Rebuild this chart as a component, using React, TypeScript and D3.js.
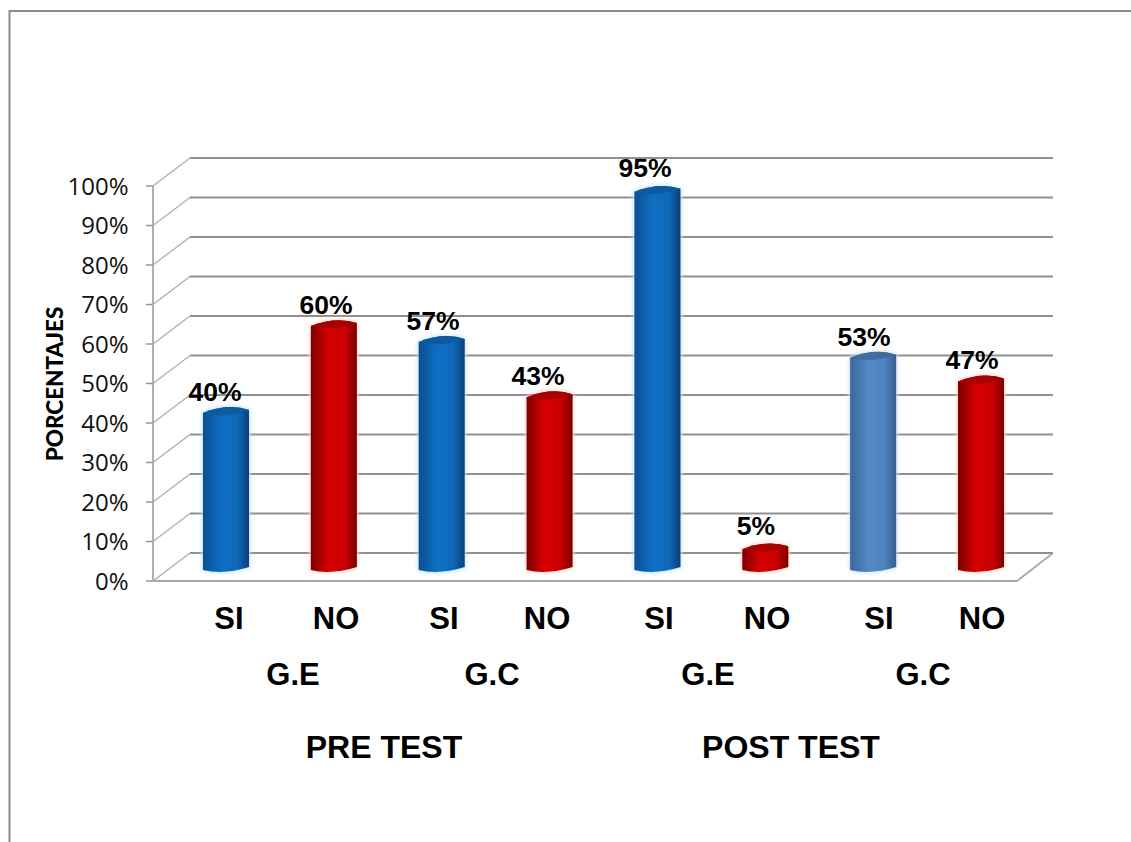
import React from "react";
import * as d3 from "d3";

const categories = ["SI", "NO", "SI", "NO", "SI", "NO", "SI", "NO"];
const groups = ["G.E", "G.C", "G.E", "G.C"];
const phases = ["PRE TEST", "POST TEST"];
const valueLabels = ["40%", "60%", "57%", "43%", "95%", "5%", "53%", "47%"];
// Drawn heights (percent on the axis)
const drawnValues = [40, 62, 58, 44, 96, 5.5, 54, 48];
const barKinds = ["blue", "red", "blue", "red", "blue", "red", "steel", "red"];
const ticks = d3.range(0, 101, 10);

const catLabelX = [229, 336, 444, 547, 659, 767, 879, 982];
const groupLabelX = [293, 492, 708, 923];
const phaseLabelX = [384, 791];
const valueLabelX = [215, 326, 433, 538, 645, 756, 864, 972];
const valueLabelY = [401, 314, 330, 385, 177, 535, 346, 369];

const W = 1131, H = 842;
const frontX = 153, frontRight = 1017, depthX = 37, depthY = 28;
const y = d3.scaleLinear().domain([0, 100]).range([581, 186]);
const barBase = 566;
const barY = d3.scaleLinear().domain([0, 100]).range([barBase, barBase - 395]);
const x = d3.scaleBand<number>().domain(d3.range(8)).range([172, 1035]).paddingInner(0.573).paddingOuter(0.287);

const stops: Record<string, [string, string, string, string]> = {
  blue: ["#0b4f8f", "#0a6fc4", "#0a69b8", "#0a3f78"],
  red: ["#7c0000", "#d80000", "#c80000", "#7a0000"],
  steel: ["#3a679c", "#5489c6", "#4f82bd", "#34608f"],
};
const capColor: Record<string, string> = { blue: "#0b5a9f", red: "#a80000", steel: "#3f6c9f" };
const glow: Record<string, string> = { blue: "#bfe3f7", red: "#ffd9cc", steel: "#cfe0f0" };

function barPath(left: number, right: number, top: number, bottom: number) {
  const p = d3.path();
  p.moveTo(left, top + 5);
  p.lineTo(left, bottom + 3);
  p.quadraticCurveTo(left + (right - left) * 0.45, bottom + 8, right, bottom);
  p.lineTo(right, top + 2);
  p.quadraticCurveTo(left + (right - left) * 0.55, top - 5, left, top + 5);
  p.closePath();
  return p.toString();
}
function capPath(left: number, right: number, top: number) {
  const p = d3.path();
  p.moveTo(left, top + 5);
  p.quadraticCurveTo(left + (right - left) * 0.55, top - 5, right, top + 2);
  p.quadraticCurveTo(left + (right - left) * 0.45, top + 11, left, top + 5);
  p.closePath();
  return p.toString();
}

const sans = "'Liberation Sans', Arial, sans-serif";

export default function App() {
  return (
    <svg width={W} height={H} style={{ position: "absolute", left: 0, top: 0, background: "#fff" }}>
      <defs>
        <filter id="soft" x="-5%" y="-5%" width="110%" height="110%"><feGaussianBlur stdDeviation="0.5" /></filter>
        <filter id="halo" x="-30%" y="-30%" width="160%" height="160%"><feGaussianBlur stdDeviation="2" /></filter>
        {Object.entries(stops).map(([k, s]) => (
          <linearGradient key={k} id={`g-${k}`} x1="0" x2="1" y1="0" y2="0">
            <stop offset="0" stopColor={s[0]} />
            <stop offset="0.4" stopColor={s[1]} />
            <stop offset="0.75" stopColor={s[2]} />
            <stop offset="1" stopColor={s[3]} />
          </linearGradient>
        ))}
      </defs>
      <path d={`M9.5,842 V11 H${W}`} fill="none" stroke="#8c8c8c" strokeWidth={2} />
      <g filter="url(#soft)">
        {ticks.map((t) => (
          <g key={t} stroke="#8f8f8f" fill="none">
            <line x1={frontX + depthX} x2={1053} y1={y(t) - depthY} y2={y(t) - depthY} strokeWidth={1.8} />
            {t > 0 && <line x1={frontX} x2={frontX + depthX} y1={y(t)} y2={y(t) - depthY} stroke="#b0b0b0" strokeWidth={1.4} />}
            <line x1={frontX - 7} x2={frontX} y1={y(t)} y2={y(t)} stroke="#8f8f8f" strokeWidth={1.4} />
          </g>
        ))}
        <line x1={frontX} x2={frontX} y1={y(0)} y2={y(100)} stroke="#a8a8a8" strokeWidth={1.8} />
        <path d={`M${frontX},${y(0)} L${frontX + depthX},${y(0) - depthY}`} stroke="#b0b0b0" strokeWidth={1.4} fill="none" />
        <path d={`M${frontX},${y(0)} H${frontRight} L1053,${y(0) - depthY}`} stroke="#a8a8a8" strokeWidth={1.8} fill="none" />
      </g>
      {drawnValues.map((v, i) => {
        const l = x(i)!, r = l + x.bandwidth();
        const top = barY(v), bottom = barBase + 1;
        const k = barKinds[i];
        return (
          <g key={i}>
            <path d={barPath(l, r, top, bottom)} fill={glow[k]} stroke={glow[k]} strokeWidth={2} filter="url(#halo)" />
            <g filter="url(#soft)">
              <path d={barPath(l, r, top, bottom)} fill={`url(#g-${k})`} />
              <path d={capPath(l, r, top)} fill={capColor[k]} />
            </g>
          </g>
        );
      })}
      <g fontFamily="'Open Sans', sans-serif" fill="#111">
        {ticks.map((t) => (
          <text key={t} x={128.5} y={y(t) + 8.5} textAnchor="end" fontSize={24}>{t}%</text>
        ))}
      </g>
      <g fontFamily={sans} fill="#000" fontWeight="bold">
        {valueLabels.map((s, i) => (
          <text key={i} x={valueLabelX[i]} y={valueLabelY[i]} textAnchor="middle" fontSize={26.5}>{s}</text>
        ))}
        {categories.map((s, i) => (
          <text key={i} x={catLabelX[i]} y={629} textAnchor="middle" fontSize={31}>{s}</text>
        ))}
        {groups.map((s, i) => (
          <text key={i} x={groupLabelX[i]} y={685} textAnchor="middle" fontSize={31}>{s}</text>
        ))}
        {phases.map((s, i) => (
          <text key={i} x={phaseLabelX[i]} y={758} textAnchor="middle" fontSize={32}>{s}</text>
        ))}
      </g>
      <text transform="translate(62.5,384) rotate(-90)" textAnchor="middle" fontFamily="Lato, sans-serif" fontWeight="900" fontSize={22.5}>PORCENTAJES</text>
    </svg>
  );
}
